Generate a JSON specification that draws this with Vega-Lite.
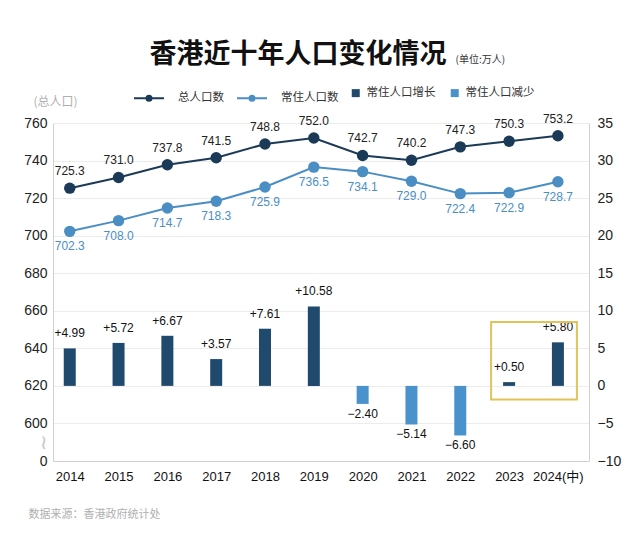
{
  "$schema": "https://vega.github.io/schema/vega-lite/v6.json",
  "width": 536,
  "height": 338,
  "autosize": {"type": "none"},
  "padding": {"left": 53, "top": 123, "right": 51, "bottom": 75},
  "background": "#ffffff",
  "config": {
    "font": "Liberation Sans, Noto Sans CJK SC",
    "view": {"stroke": null},
    "axis": {"labelFont": "Liberation Sans, Noto Sans CJK SC", "titleFont": "Noto Sans CJK SC"},
    "legend": {"labelFont": "Noto Sans CJK SC"}
  },
  "title": {
    "text": "香港近十年人口变化情况",
    "font": "Noto Sans CJK SC",
    "fontSize": 27,
    "fontWeight": "bold",
    "color": "#111111",
    "anchor": "middle",
    "frame": "group",
    "dx": -23,
    "dy": 15,
    "offset": 0
  },
  "datasets": {
    "pop": [
      {"year": "2014", "series": "总人口数", "value": 725.3},
      {"year": "2015", "series": "总人口数", "value": 731.0},
      {"year": "2016", "series": "总人口数", "value": 737.8},
      {"year": "2017", "series": "总人口数", "value": 741.5},
      {"year": "2018", "series": "总人口数", "value": 748.8},
      {"year": "2019", "series": "总人口数", "value": 752.0},
      {"year": "2020", "series": "总人口数", "value": 742.7},
      {"year": "2021", "series": "总人口数", "value": 740.2},
      {"year": "2022", "series": "总人口数", "value": 747.3},
      {"year": "2023", "series": "总人口数", "value": 750.3},
      {"year": "2024(中)", "series": "总人口数", "value": 753.2},
      {"year": "2014", "series": "常住人口数", "value": 702.3},
      {"year": "2015", "series": "常住人口数", "value": 708.0},
      {"year": "2016", "series": "常住人口数", "value": 714.7},
      {"year": "2017", "series": "常住人口数", "value": 718.3},
      {"year": "2018", "series": "常住人口数", "value": 725.9},
      {"year": "2019", "series": "常住人口数", "value": 736.5},
      {"year": "2020", "series": "常住人口数", "value": 734.1},
      {"year": "2021", "series": "常住人口数", "value": 729.0},
      {"year": "2022", "series": "常住人口数", "value": 722.4},
      {"year": "2023", "series": "常住人口数", "value": 722.9},
      {"year": "2024(中)", "series": "常住人口数", "value": 728.7}
    ],
    "chg": [
      {"year": "2014", "change": 4.99, "kind": "常住人口增长"},
      {"year": "2015", "change": 5.72, "kind": "常住人口增长"},
      {"year": "2016", "change": 6.67, "kind": "常住人口增长"},
      {"year": "2017", "change": 3.57, "kind": "常住人口增长"},
      {"year": "2018", "change": 7.61, "kind": "常住人口增长"},
      {"year": "2019", "change": 10.58, "kind": "常住人口增长"},
      {"year": "2020", "change": -2.40, "kind": "常住人口减少"},
      {"year": "2021", "change": -5.14, "kind": "常住人口减少"},
      {"year": "2022", "change": -6.60, "kind": "常住人口减少"},
      {"year": "2023", "change": 0.50, "kind": "常住人口增长"},
      {"year": "2024(中)", "change": 5.80, "kind": "常住人口增长"}
    ],
    "box": [
      {"from": "2023", "to": "2024(中)", "top": 8.5, "bottom": -1.8}
    ]
  },
  "encoding": {
    "x": {
      "field": "year",
      "type": "ordinal",
      "sort": null,
      "scale": {"type": "point", "domain": ["2014","2015","2016","2017","2018","2019","2020","2021","2022","2023","2024(中)"], "padding": 0.49, "align": 0.35},
      "axis": {
        "labelAngle": 0,
        "labelFontSize": 13,
        "labelColor": "#111111",
        "labelPadding": 9,
        "ticks": false,
        "domainColor": "#d0d0d0",
        "title": "数据来源：香港政府统计处",
        "titleFontSize": 11,
        "titleFontWeight": "normal",
        "titleColor": "#b0b0b0",
        "titleAnchor": "start",
        "titleAlign": "left",
        "titleBaseline": "middle",
        "titleX": -25,
        "titleY": 53
      }
    }
  },
  "layer": [
    {
      "data": {"name": "chg"},
      "encoding": {
        "y": {
          "type": "quantitative",
          "scale": {"domain": [-10, 35], "nice": false, "zero": false},
          "axis": {
            "orient": "right",
            "values": [-10,-5,0,5,10,15,20,25,30,35],
            "labelFontSize": 14,
            "labelColor": "#222222",
            "labelPadding": 8,
            "ticks": false,
            "domainColor": "#d0d0d0",
            "grid": true,
            "gridColor": "#ececec",
            "title": "(单位:万人)",
            "titleFontSize": 10,
            "titleFontWeight": "normal",
            "titleColor": "#333333",
            "titleAngle": 0,
            "titleAlign": "left",
            "titleBaseline": "middle",
            "titleX": -134,
            "titleY": -64
          }
        }
      },
      "layer": [
        {
          "mark": {"type": "bar", "width": 12},
          "encoding": {
            "y": {"field": "change"},
            "y2": {"datum": 0},
            "fill": {
              "field": "kind",
              "type": "nominal",
              "scale": {"domain": ["常住人口增长", "常住人口减少"], "range": ["#1f4a6d", "#4a92cc"]},
              "legend": {
                "title": null,
                "orient": "none",
                "direction": "horizontal",
                "legendX": 297,
                "legendY": -36,
                "symbolType": "square",
                "symbolSize": 64,
                "labelFontSize": 11.5,
                "labelColor": "#333333",
                "labelOffset": 5,
                "columnPadding": 13
              }
            }
          }
        },
        {
          "transform": [{"filter": "datum.change > 0"}],
          "mark": {"type": "text", "dy": -8, "fontSize": 12, "color": "#111111", "baseline": "bottom"},
          "encoding": {
            "y": {"field": "change"},
            "text": {"field": "change", "type": "quantitative", "format": "+.2f"}
          }
        },
        {
          "transform": [{"filter": "datum.change < 0"}],
          "mark": {"type": "text", "dy": 5, "fontSize": 12, "color": "#111111", "baseline": "top"},
          "encoding": {
            "y": {"field": "change"},
            "text": {"field": "change", "type": "quantitative", "format": "+.2f"}
          }
        },
        {
          "data": {"name": "box"},
          "mark": {"type": "rect", "fill": null, "stroke": "#e2c35a", "strokeWidth": 2, "xOffset": -18, "x2Offset": 19},
          "encoding": {
            "x": {"field": "from"},
            "x2": {"field": "to"},
            "y": {"field": "top"},
            "y2": {"field": "bottom"}
          }
        }
      ]
    },
    {
      "data": {"name": "pop"},
      "encoding": {
        "y": {
          "field": "value",
          "type": "quantitative",
          "scale": {"domain": [580, 760], "nice": false, "zero": false},
          "axis": {
            "orient": "left",
            "values": [580,590,600,620,640,660,680,700,720,740,760],
            "labelExpr": "datum.value == 580 ? '0' : (datum.value == 590 ? '≀' : datum.label)",
            "labelColor": {"expr": "datum.value == 590 ? '#c8c8c8' : '#222222'"},
            "labelFontSize": {"expr": "datum.value == 590 ? 20 : 14"},
            "labelPadding": 6,
            "ticks": false,
            "grid": false,
            "domainColor": "#d0d0d0",
            "title": "(总人口)",
            "titleFontSize": 12,
            "titleFontWeight": "normal",
            "titleColor": "#b0b0b0",
            "titleAngle": 0,
            "titleAlign": "left",
            "titleBaseline": "middle",
            "titleX": -20,
            "titleY": -22
          }
        }
      },
      "layer": [
        {
          "mark": {"type": "line", "strokeWidth": 2},
          "encoding": {
            "color": {
              "field": "series",
              "type": "nominal",
              "scale": {"domain": ["总人口数", "常住人口数"], "range": ["#1b3a57", "#4a8ec4"]},
              "legend": {
                "title": null,
                "orient": "none",
                "direction": "horizontal",
                "legendX": 85,
                "legendY": -36,
                "symbolType": "M-1.5,0H1.5M0.25,0A0.25,0.25,0,1,1,-0.25,0A0.25,0.25,0,1,1,0.25,0Z",
                "symbolSize": 400,
                "symbolStrokeWidth": 2,
                "labelFontSize": 11.5,
                "labelColor": "#333333",
                "labelOffset": 18,
                "columnPadding": 9,
                "encode": {
                  "symbols": {
                    "update": {
                      "fill": {"scale": "color", "field": "value"},
                      "stroke": {"scale": "color", "field": "value"}
                    }
                  }
                }
              }
            }
          }
        },
        {
          "mark": {"type": "point", "filled": true, "size": 130, "opacity": 1},
          "encoding": {"color": {"field": "series", "type": "nominal"}}
        },
        {
          "transform": [{"filter": "datum.series == '总人口数'"}],
          "mark": {"type": "text", "dy": -10, "baseline": "bottom", "fontSize": 12, "color": "#222222"},
          "encoding": {"text": {"field": "value", "type": "quantitative", "format": ".1f"}}
        },
        {
          "transform": [{"filter": "datum.series == '常住人口数'"}],
          "mark": {"type": "text", "dy": 10, "baseline": "top", "fontSize": 12, "color": "#4a8ec4"},
          "encoding": {"text": {"field": "value", "type": "quantitative", "format": ".1f"}}
        }
      ]
    }
  ],
  "resolve": {"scale": {"y": "independent"}}
}
